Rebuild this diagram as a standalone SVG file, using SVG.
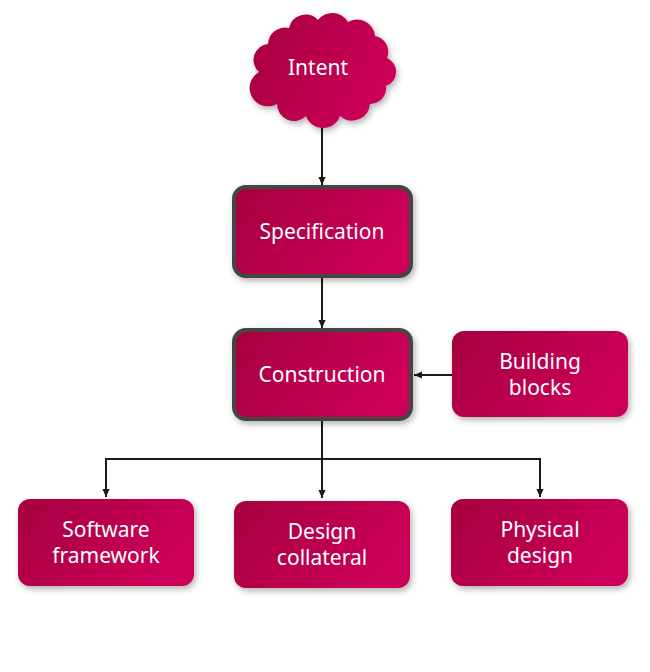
<svg xmlns="http://www.w3.org/2000/svg" width="650" height="672" viewBox="0 0 650 672">
<defs>
<linearGradient id="g" x1="0" y1="0" x2="1" y2="0.4">
<stop offset="0" stop-color="#a5003f"/>
<stop offset="1" stop-color="#cc0058"/>
</linearGradient>
<filter id="sh" x="-10%" y="-10%" width="125%" height="130%">
<feDropShadow dx="2" dy="3" stdDeviation="3" flood-color="#000" flood-opacity="0.3"/>
</filter>
<marker id="ah" viewBox="0 0 10 10" refX="10" refY="5" markerWidth="8" markerHeight="8" markerUnits="userSpaceOnUse" orient="auto">
<path d="M0,0.5 L10,5 L0,9.5 z" fill="#1a1a1a"/>
</marker>
</defs>
<style>
.box{fill:url(#g);filter:url(#sh)}
.main{stroke:#454545;stroke-width:4}
.t{fill:#fff;font-family:"Noto Sans","DejaVu Sans",sans-serif;font-size:21px;text-anchor:middle}
.c{fill:none;stroke:#1a1a1a;stroke-width:2}
</style>
<rect width="650" height="672" fill="#fff"/>
<g id="connectors">
<line class="c" x1="322" y1="126" x2="322" y2="185" marker-end="url(#ah)"/>
<line class="c" x1="322" y1="277" x2="322" y2="328" marker-end="url(#ah)"/>
<line class="c" x1="452" y1="375" x2="414" y2="375" marker-end="url(#ah)"/>
<line class="c" x1="322" y1="421" x2="322" y2="498" marker-end="url(#ah)"/>
<polyline class="c" points="106,497 106,459 540,459 540,497" marker-end="url(#ah)"/>
<line class="c" x1="106" y1="459" x2="106" y2="497" marker-end="url(#ah)"/>
</g>
<g id="intent">
<path class="box" d="M259,72 A16,16 0 0 1 268,44 A17,17 0 0 1 289,28 A17,17 0 0 1 318,20 A18,18 0 0 1 348,22 A18,18 0 0 1 375,36 A16,16 0 0 1 387,58 A15,15 0 0 1 386,86 A16,16 0 0 1 370,104 A18,18 0 0 1 340,116 A18,18 0 0 1 306,116 A17,17 0 0 1 277,104 A15,15 0 0 1 259,72 Z"/>
<text class="t" x="318" y="75">Intent</text>
</g>
<g id="specification">
<rect class="box main" x="234" y="187" width="177" height="89" rx="12"/>
<text class="t" x="322" y="239">Specification</text>
</g>
<g id="construction">
<rect class="box main" x="234" y="330" width="177" height="89" rx="12"/>
<text class="t" x="322" y="382">Construction</text>
</g>
<g id="building-blocks">
<rect class="box" x="452" y="331" width="176" height="86" rx="12"/>
<text class="t" x="540" y="369">Building</text>
<text class="t" x="540" y="395">blocks</text>
</g>
<g id="software-framework">
<rect class="box" x="18" y="499" width="176" height="87" rx="12"/>
<text class="t" x="106" y="537">Software</text>
<text class="t" x="106" y="563">framework</text>
</g>
<g id="design-collateral">
<rect class="box" x="234" y="501" width="176" height="87" rx="12"/>
<text class="t" x="322" y="539">Design</text>
<text class="t" x="322" y="565">collateral</text>
</g>
<g id="physical-design">
<rect class="box" x="451" y="499" width="177" height="87" rx="12"/>
<text class="t" x="540" y="537">Physical</text>
<text class="t" x="540" y="563">design</text>
</g>
</svg>
